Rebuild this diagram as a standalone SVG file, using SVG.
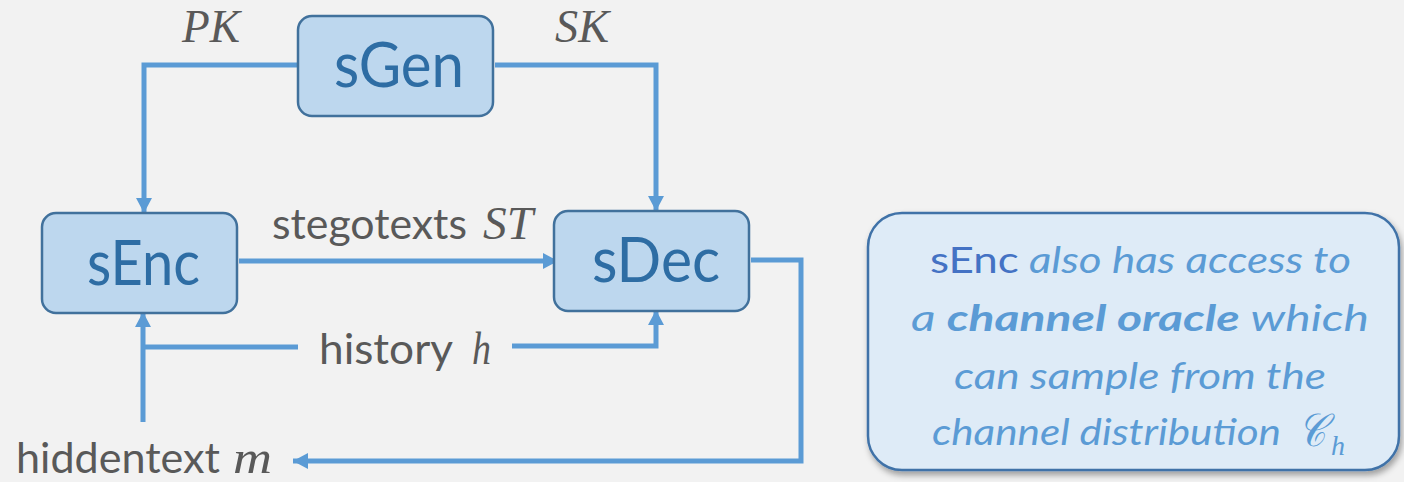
<svg xmlns="http://www.w3.org/2000/svg" width="1404" height="482" viewBox="0 0 1404 482">
  <style>
    .node rect { fill: #bdd7ee; stroke: #41719c; stroke-width: 2.5; }
    .node text { font-family: Lato, "Noto Sans", sans-serif; font-size: 61px; fill: #2e6da4; }
    .wire { fill: none; stroke: #5b9bd5; stroke-width: 5; }
    .lbl { font-family: Lato, "Noto Sans", sans-serif; font-size: 42px; fill: #595959; }
    .math { font-family: "Liberation Serif", "DejaVu Serif", serif; font-style: italic; font-size: 46px; fill: #595959; }
    .note-box { fill: #deebf7; stroke: #3f72a8; stroke-width: 2.5; }
    .note { font-family: Lato, "Noto Sans", sans-serif; font-size: 36px; font-style: italic; fill: #5b9bd5; }
    .note .hl { font-style: normal; fill: #4472c4; }
    .note .em { font-weight: bold; }
    .nmath { font-family: "Liberation Serif", "DejaVu Serif", serif; font-style: italic; fill: #5b9bd5; }
  </style>
  <defs>
    <marker id="head" markerUnits="userSpaceOnUse" markerWidth="16" markerHeight="16" refX="15" refY="8" orient="auto">
      <path d="M0,0 L15,8 L0,16 z" fill="#5b9bd5"/>
    </marker>
    <filter id="shadow" x="-5%" y="-5%" width="112%" height="115%">
      <feDropShadow dx="2" dy="4" stdDeviation="3" flood-color="#000" flood-opacity="0.35"/>
    </filter>
  </defs>

  <rect width="1404" height="482" fill="#f2f2f2"/>

  <!-- connectors -->
  <g id="connectors">
    <path class="wire" d="M304,65 H144 V213" marker-end="url(#head)"/>
    <path class="wire" d="M495,65 H656 V211" marker-end="url(#head)"/>
    <path class="wire" d="M239,261 H558" marker-end="url(#head)"/>
    <path class="wire" d="M751,260 H801 V461 H293" marker-end="url(#head)"/>
    <path class="wire" d="M143,422 V312" marker-end="url(#head)"/>
    <path class="wire" d="M298,347 H143"/>
    <path class="wire" d="M512,346 H656 V310" marker-end="url(#head)"/>
  </g>

  <!-- edge labels -->
  <g id="labels">
    <text class="math" x="182" y="42" textLength="58" lengthAdjust="spacingAndGlyphs">PK</text>
    <text class="math" x="555" y="42" textLength="54" lengthAdjust="spacingAndGlyphs">SK</text>
    <text class="lbl" x="272" y="239" textLength="195" lengthAdjust="spacingAndGlyphs">stegotexts</text>
    <text class="math" x="483" y="239" textLength="50" lengthAdjust="spacingAndGlyphs">ST</text>
    <text class="lbl" x="319" y="364" textLength="134" lengthAdjust="spacingAndGlyphs">history</text>
    <text class="math" x="472" y="364" textLength="19" lengthAdjust="spacingAndGlyphs">h</text>
    <text class="lbl" x="16" y="473" textLength="204" lengthAdjust="spacingAndGlyphs">hiddentext</text>
    <text class="math" x="233" y="473" textLength="39" lengthAdjust="spacingAndGlyphs">m</text>
  </g>

  <!-- nodes -->
  <g id="sGen" class="node">
    <rect x="298" y="16" width="195" height="100" rx="14"/>
    <text x="334" y="87" textLength="130" lengthAdjust="spacingAndGlyphs">sGen</text>
  </g>
  <g id="sEnc" class="node">
    <rect x="42" y="213" width="195" height="100" rx="14"/>
    <text x="87" y="285" textLength="113" lengthAdjust="spacingAndGlyphs">sEnc</text>
  </g>
  <g id="sDec" class="node">
    <rect x="554" y="211" width="195" height="100" rx="14"/>
    <text x="592" y="282" textLength="128" lengthAdjust="spacingAndGlyphs">sDec</text>
  </g>

  <!-- side note -->
  <g id="note">
    <rect class="note-box" x="868" y="213" width="531" height="257" rx="34" filter="url(#shadow)"/>
    <text class="note" x="930" y="273" textLength="421" lengthAdjust="spacingAndGlyphs"><tspan class="hl">sEnc</tspan> also has access to</text>
    <text class="note" x="911" y="331" textLength="458" lengthAdjust="spacingAndGlyphs">a <tspan class="em">channel oracle</tspan> which</text>
    <text class="note" x="954" y="389" textLength="372" lengthAdjust="spacingAndGlyphs">can sample from the</text>
    <text class="note" x="932" y="445" textLength="349" lengthAdjust="spacingAndGlyphs">channel distribution</text>
    <text class="nmath" x="1298" y="446" font-size="46" textLength="28" lengthAdjust="spacingAndGlyphs">𝒞</text>
    <text class="nmath" x="1331" y="455" font-size="28">h</text>
  </g>
</svg>
